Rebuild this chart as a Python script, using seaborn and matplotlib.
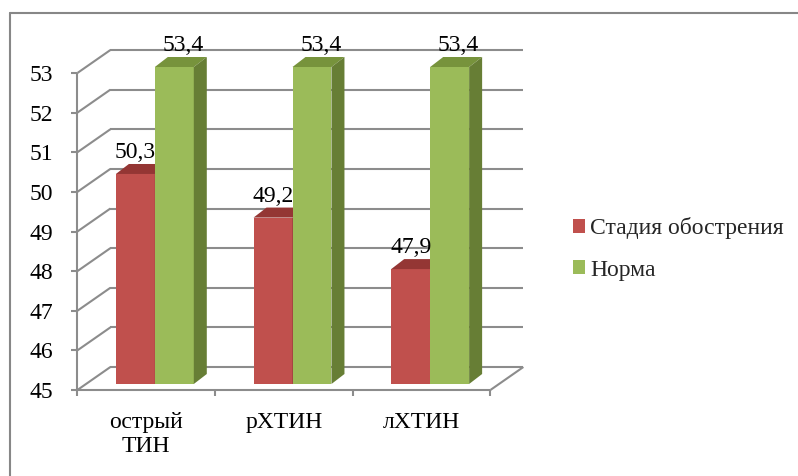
import matplotlib
matplotlib.use("Agg")
import matplotlib.pyplot as plt
import pandas as pd
import seaborn as sns
from matplotlib.patches import Polygon, Patch
from matplotlib.lines import Line2D
from matplotlib.transforms import ScaledTranslation

# ---- data -------------------------------------------------------------
categories = ["острый\nТИН", "рХТИН", "лХТИН"]
series_names = ["Стадия обострения", "Норма"]
exacerbation = [50.3, 49.2, 47.9]
norm = [53.4, 53.4, 53.4]
y_ticks = [45, 46, 47, 48, 49, 50, 51, 52, 53]

# ---- styling ----------------------------------------------------------
front_colors = ["#C0504D", "#9BBB59"]
top_colors = ["#943634", "#77933C"]
side_colors = ["#8E3A38", "#677E35"]
frame_color = "#8C8C8C"
FS = 17

df = pd.DataFrame({
    "category": categories * 2,
    "series": [series_names[0]] * len(categories) + [series_names[1]] * len(categories),
    "value": exacerbation + norm,
})

sns.set_theme(style="white")
plt.rcParams["font.family"] = ["Liberation Serif", "DejaVu Serif"]

DPI = 100
W, H = 798, 476
fig = plt.figure(figsize=(W / DPI, H / DPI), dpi=DPI)
fig.patch.set_facecolor("white")


def fig_box(left, top, right, bottom):
    return [left / W, 1 - bottom / H, (right - left) / W, (bottom - top) / H]


# axes = plane of the bar fronts
AX_L, AX_T, AX_R, AX_B = 86, 67, 499, 384
ax = fig.add_axes(fig_box(AX_L, AX_T, AX_R, AX_B))

sns.barplot(data=df, x="category", y="value", hue="series",
            order=categories, hue_order=series_names,
            palette=front_colors, saturation=1, width=0.566, gap=0,
            linewidth=0, edgecolor="none", legend=False, ax=ax)

XMIN, XMAX, YMIN, YMAX = -0.5, 2.5, 45, 53
ax.set_xlim(XMIN, XMAX)
ax.set_ylim(YMIN, YMAX)
ax.set_xlabel("")
ax.set_ylabel("")
for s in ax.spines.values():
    s.set_visible(False)
ax.patch.set_alpha(0)

# pixel -> data unit factors
sx = (XMAX - XMIN) / (AX_R - AX_L)
sy = (YMAX - YMIN) / (AX_B - AX_T)

# depth offsets (pixels) relative to the bar-front plane
fx, fy = -8.6 * sx, -6 * sy      # front edge of the floor / axis
bx, by = 24.4 * sx, 17 * sy      # back wall
tdx, tdy = 13 * sx, 10 * sy      # bar depth

line_kw = dict(color=frame_color, lw=1.5, clip_on=False, solid_capstyle="butt")

# back wall gridlines and left wall diagonals
for v in y_ticks:
    ax.plot([XMIN + bx, XMAX + bx], [v + by, v + by], zorder=0.5, **line_kw)
    ax.plot([XMIN + fx, XMIN + bx], [v + fy, v + by], zorder=0.5, **line_kw)

# floor front edge and right side
ax.plot([XMIN + fx, XMAX + fx], [YMIN + fy, YMIN + fy], zorder=4, **line_kw)
ax.plot([XMAX + fx, XMAX + bx], [YMIN + fy, YMIN + by], zorder=0.5, **line_kw)

# front value axis with tick marks
ax.plot([XMIN + fx, XMIN + fx], [YMIN + fy, YMAX + fy], zorder=4, **line_kw)
for v in y_ticks:
    ax.plot([XMIN + fx - 6 * sx, XMIN + fx], [v + fy, v + fy], zorder=4, **line_kw)
for b in [-0.5, 0.5, 1.5, 2.5]:
    ax.plot([b + fx, b + fx], [YMIN + fy, YMIN + fy - 6 * sy], zorder=4, **line_kw)

# bars: fronts from seaborn, tops and sides as 3-D faces
label_dx = [0, 9]
for h, cont in enumerate(ax.containers):
    z = 2 + h
    for patch in cont:
        patch.set_zorder(z)
        x0, w = patch.get_x(), patch.get_width()
        val = patch.get_y() + patch.get_height()
        top = min(val, YMAX)
        ax.add_patch(Polygon([(x0, top), (x0 + w, top), (x0 + w + tdx, top + tdy),
                              (x0 + tdx, top + tdy)], closed=True,
                             facecolor=top_colors[h], edgecolor="none",
                             zorder=z, clip_on=False))
        ax.add_patch(Polygon([(x0 + w, YMIN), (x0 + w + tdx, YMIN + tdy),
                              (x0 + w + tdx, top + tdy), (x0 + w, top)], closed=True,
                             facecolor=side_colors[h], edgecolor="none",
                             zorder=z, clip_on=False))
        ax.text(x0 + w / 2 + label_dx[h] * sx, top + 16 * sy,
                f"{val:.1f}".replace(".", ","), ha="center", va="baseline",
                fontsize=FS, color="black", zorder=6, clip_on=False)

# tick labels, shifted onto the front plane
ax.set_yticks(y_ticks)
ax.set_yticklabels([str(t) for t in y_ticks])
ax.set_xticks(range(len(categories)))
ax.set_xticklabels(categories)
ax.tick_params(axis="both", length=0, labelsize=FS, colors="black")
ax.tick_params(axis="y", pad=17.6)
ax.tick_params(axis="x", pad=16)
shift = ScaledTranslation(-8.6 / DPI, -6 / DPI, fig.dpi_scale_trans)
for lbl in ax.get_yticklabels() + ax.get_xticklabels():
    lbl.set_transform(lbl.get_transform() + shift)
    lbl.set_linespacing(1.2)

# legend
handles = [Patch(facecolor=c, edgecolor="none") for c in front_colors]
ax.legend(handles, series_names, loc="center left",
          bbox_to_anchor=(573 / W, 1 - 249 / H), bbox_transform=fig.transFigure,
          frameon=False, fontsize=FS, handlelength=0.51, handleheight=0.51,
          handletextpad=0.22, borderpad=0, borderaxespad=0, labelspacing=0.85)

# outer chart border
fig.add_artist(Line2D([10 / W, 10 / W], [0, 1 - 13 / H], transform=fig.transFigure,
                      color="#878787", lw=1.5))
fig.add_artist(Line2D([10 / W, 1], [1 - 13 / H, 1 - 13 / H], transform=fig.transFigure,
                      color="#878787", lw=1.5))

fig.savefig("out.png", dpi=DPI, facecolor="white")
